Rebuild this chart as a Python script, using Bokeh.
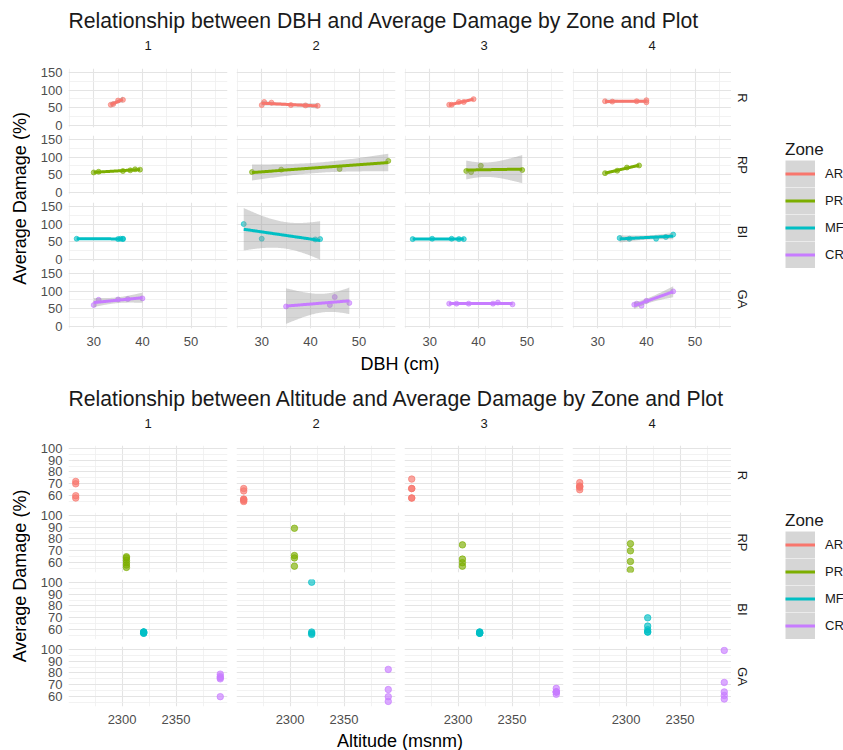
import numpy as np
from bokeh.plotting import figure
from bokeh.layouts import row, column
from bokeh.models import Range1d, FixedTicker, Grid, Legend, LegendItem, ColumnDataSource
from bokeh.core.properties import value
from bokeh.embed import file_html
from bokeh.resources import INLINE

FONT = "Liberation Sans"

ZONES = ["AR", "PR", "MF", "CR"]
ZONE_STRIPS = ["R", "RP", "BI", "GA"]
ZONE_COLORS = ["#F8766D", "#7CAE00", "#00BFC4", "#C77CFF"]
ZONE_ALTITUDE = [2257, 2304, 2320, 2391]
PLOTS = [1, 2, 3, 4]

# Trees per zone: plot number, diameter at breast height (cm), average damage (%)
AR_PLOT = [1, 1, 1, 1, 2, 2, 2, 2, 2, 2, 3, 3, 3, 3, 3, 4, 4, 4, 4, 4]
AR_DBH = [33.5, 34, 35, 36, 30, 30.5, 32, 36, 39, 41.5, 34, 34.5, 36, 37, 39, 31.5, 33, 38, 40, 40]
AR_DAMAGE = [58, 60, 70, 72, 57, 66, 64, 57, 56, 55, 58, 58, 66, 66, 74, 68, 67, 68, 65, 71]

PR_PLOT = [1, 1, 1, 1, 1, 1, 2, 2, 2, 2, 3, 3, 3, 3, 4, 4, 4, 4]
PR_DBH = [30, 31, 36, 37.5, 38.5, 39.5, 28, 34, 46, 56, 37.5, 38.5, 40.5, 49, 31.5, 34, 36, 38.5]
PR_DAMAGE = [56, 58, 60, 62, 65, 64, 57, 64, 66, 89, 60, 57, 75, 63, 54, 61, 70, 76]

MF_PLOT = [1, 1, 1, 1, 1, 2, 2, 2, 2, 3, 3, 3, 3, 3, 4, 4, 4, 4, 4]
MF_DBH = [26.5, 35, 35.5, 36, 36, 26.3, 30, 41, 42, 26.5, 30.5, 34.5, 36, 37, 34.5, 36.5, 42, 44, 45.5]
MF_DAMAGE = [58, 57, 58, 57, 58, 100, 58, 56, 57, 57, 58, 58, 57, 57, 60, 58, 58, 63, 70]

CR_PLOT = [1, 1, 1, 1, 1, 2, 2, 2, 2, 3, 3, 3, 3, 3, 3, 4, 4, 4, 4, 4]
CR_DBH = [30, 31, 35, 37, 40, 35, 44, 45, 48, 34, 35.5, 38, 43, 44, 47, 37.5, 38, 39, 40, 45.5]
CR_DAMAGE = [60, 75, 76, 77, 79, 56, 60, 83, 66, 64, 64, 64, 64, 67, 62, 61, 64, 58, 72, 99]

ZONE_TREES = [
    (AR_PLOT, AR_DBH, AR_DAMAGE),
    (PR_PLOT, PR_DBH, PR_DAMAGE),
    (MF_PLOT, MF_DBH, MF_DAMAGE),
    (CR_PLOT, CR_DBH, CR_DAMAGE),
]

DBH_TICKS = [30, 40, 50]
DBH_MINOR = [25, 35, 45, 55]
DMG_TICKS_TOP = [0, 50, 100, 150]
DMG_MINOR_TOP = [25, 75, 125]
ALT_TICKS = [2300, 2350]
ALT_MINOR = [2275, 2325, 2375]
DMG_TICKS_BOT = [60, 70, 80, 90, 100]
DMG_MINOR_BOT = [55, 65, 75, 85, 95]

# two-sided 95% t quantiles for the lm confidence band
T975 = {1: 12.706, 2: 4.303, 3: 3.182, 4: 2.776, 5: 2.571, 6: 2.447, 7: 2.365}

# layout (pixels)
W = 843
YLAB_W = 30
AXIS_W = 38
PANEL_W = 159
GAP_X = 9
STRIP_W = 28
LEGEND_W = W - YLAB_W - AXIS_W - 4 * PANEL_W - 3 * GAP_X - STRIP_W
KEY_H = 27
TICK_FONT = "13px"
BAND_GREY = "#D6D6D6"
NAN = float("nan")


def smooth(x, y, n=80):
    x = np.asarray(x, float)
    y = np.asarray(y, float)
    slope, icpt = np.polyfit(x, y, 1)
    xs = np.linspace(x.min(), x.max(), n)
    fit = icpt + slope * xs
    resid = y - (icpt + slope * x)
    df = len(x) - 2
    s = np.sqrt((resid ** 2).sum() / df)
    sxx = ((x - x.mean()) ** 2).sum()
    se = s * np.sqrt(1.0 / len(x) + (xs - x.mean()) ** 2 / sxx)
    t = T975[df]
    return xs, fit, fit - t * se, fit + t * se


def expand(lo, hi, f=0.05):
    d = (hi - lo) * f
    return lo - d, hi + d


def blank(width, height):
    p = figure(width=width, height=height, x_range=Range1d(0, width), y_range=Range1d(height, 0),
               x_axis_location=None, y_axis_location=None, toolbar_location=None,
               output_backend="svg", min_border=0, outline_line_color=None,
               background_fill_color="white", border_fill_color="white")
    p.center = [r for r in p.center if not isinstance(r, Grid)]
    return p


def panel(xr, yr, xt, xm, yt, ym, col, rw, frame_h, top_pad, gap_top, gap_bot, axis_h):
    left = AXIS_W if col == 0 else 0
    right = GAP_X if col < 3 else 0
    top = top_pad if rw == 0 else gap_top
    bottom = axis_h if rw == 3 else gap_bot
    p = figure(width=left + PANEL_W + right, height=top + frame_h + bottom,
               x_range=xr, y_range=yr,
               x_axis_location="below" if rw == 3 else None,
               y_axis_location="left" if col == 0 else None,
               min_border_left=left, min_border_right=right,
               min_border_top=top, min_border_bottom=bottom,
               toolbar_location=None, output_backend="svg", outline_line_color=None,
               background_fill_color="white", border_fill_color="white")
    p.center = [r for r in p.center if not isinstance(r, Grid)]
    for dim, tk, mn in ((0, xt, xm), (1, yt, ym)):
        p.add_layout(Grid(dimension=dim, ticker=FixedTicker(ticks=tk, minor_ticks=mn),
                          grid_line_color="#E4E4E4", grid_line_width=1.1,
                          minor_grid_line_color="#EFEFEF", minor_grid_line_width=0.8))
    for ax in p.axis:
        ax.axis_line_color = None
        ax.major_tick_line_color = None
        ax.minor_tick_line_color = None
        ax.major_tick_out = 0
        ax.major_tick_in = 0
        ax.minor_tick_out = 0
        ax.minor_tick_in = 0
        ax.major_label_text_font = FONT
        ax.major_label_text_font_size = TICK_FONT
        ax.major_label_text_color = "#4D4D4D"
    if rw == 3:
        p.xaxis.ticker = FixedTicker(ticks=xt)
        p.xaxis.major_label_standoff = 8
    if col == 0:
        p.yaxis.ticker = FixedTicker(ticks=yt)
        p.yaxis.major_label_standoff = 6
    return p


def legend_fig(height, bottom_off):
    p = blank(LEGEND_W, height)
    items = []
    for z, c in zip(ZONES, ZONE_COLORS):
        # key-only renderers: a single undefined point, nothing drawn in the frame
        src = ColumnDataSource(dict(x=[NAN], y=[NAN]))
        key_bg = p.line(x="x", y="y", source=src, line_color=BAND_GREY, line_width=KEY_H,
                        line_cap="butt")
        ln = p.line(x="x", y="y", source=src, line_color=c, line_width=3)
        items.append(LegendItem(label=z, renderers=[key_bg, ln]))
    leg = Legend(items=items, title="Zone", location=(26, bottom_off),
                 title_text_font=FONT, title_text_font_size="17px", title_text_color="#1A1A1A",
                 title_text_font_style="normal", title_standoff=0,
                 label_text_font=FONT, label_text_font_size="13px", label_text_color="#1A1A1A",
                 glyph_width=30, glyph_height=KEY_H, label_height=KEY_H, spacing=0, padding=0, margin=0,
                 label_standoff=10, border_line_color=None, background_fill_alpha=0)
    p.add_layout(leg)
    return p


def chart(title, xlabel, header_h, title_y, strip_y, frame_h, top_pad, gap_top, gap_bot, axis_h,
          xlab_h, xlab_y, legend_off, top_kind):
    if top_kind:
        all_x = [v for _, xs, _ in ZONE_TREES for v in xs]
        xr = Range1d(*expand(min(all_x), max(all_x)))
        yr = Range1d(-7, 161.5)
        xt, xm, yt, ym = DBH_TICKS, DBH_MINOR, DMG_TICKS_TOP, DMG_MINOR_TOP
    else:
        xr = Range1d(*expand(min(ZONE_ALTITUDE), max(ZONE_ALTITUDE)))
        all_y = [v for _, _, ys in ZONE_TREES for v in ys]
        yr = Range1d(*expand(min(all_y), max(all_y)))
        xt, xm, yt, ym = ALT_TICKS, ALT_MINOR, DMG_TICKS_BOT, DMG_MINOR_BOT

    rows = []
    for zi, (plots, dbh, dmg) in enumerate(ZONE_TREES):
        figs = []
        for ci, pl in enumerate(PLOTS):
            p = panel(xr, yr, xt, xm, yt, ym, ci, zi, frame_h, top_pad, gap_top, gap_bot, axis_h)
            idx = [i for i, v in enumerate(plots) if v == pl]
            ys = [dmg[i] for i in idx]
            color = ZONE_COLORS[zi]
            if top_kind:
                xs = [dbh[i] for i in idx]
                p.scatter(xs, ys, size=5, color=color, alpha=0.6)
                sx, fit, lo, hi = smooth(xs, ys)
                p.varea(x=sx, y1=lo, y2=hi, fill_color="#999999", fill_alpha=0.4)
                p.line(sx, fit, line_color=color, line_width=3)
            else:
                xs = [ZONE_ALTITUDE[zi]] * len(idx)
                p.scatter(xs, ys, size=6.5, color=color, alpha=0.65)
            figs.append(p)
        rows.append(row(*figs))
    gap = gap_top + gap_bot
    grid_h = top_pad + 4 * frame_h + 3 * gap + axis_h

    # title and column strips
    head = blank(W, header_h)
    head.text(x=[YLAB_W + AXIS_W], y=[title_y], text=[title], text_font=value(FONT),
              text_font_size="21.2px", text_align="left", text_baseline="middle", text_color="#1A1A1A")
    cx = [YLAB_W + AXIS_W + PANEL_W / 2 + i * (PANEL_W + GAP_X) for i in range(4)]
    head.text(x=cx, y=[strip_y] * 4, text=[str(v) for v in PLOTS], text_font=value(FONT),
              text_font_size="13px", text_align="center", text_baseline="middle", text_color="#1A1A1A")

    # row strips
    strip = blank(STRIP_W, grid_h)
    ry = [top_pad + frame_h / 2 + i * (frame_h + gap) for i in range(4)]
    strip.text(x=[11] * 4, y=ry, text=ZONE_STRIPS, angle=-np.pi / 2, text_font=value(FONT),
               text_font_size="13px", text_align="center", text_baseline="middle", text_color="#1A1A1A")

    # y axis title
    ylab = blank(YLAB_W, grid_h)
    mid = top_pad + (4 * frame_h + 3 * gap) / 2
    ylab.text(x=[19], y=[mid], text=["Average Damage (%)"], angle=np.pi / 2, text_font=value(FONT),
              text_font_size="18px", text_align="center", text_baseline="middle", text_color="#000000")

    leg = legend_fig(grid_h, legend_off)

    xl = blank(W, xlab_h)
    xl.text(x=[YLAB_W + AXIS_W + (4 * PANEL_W + 3 * GAP_X) / 2], y=[xlab_y], text=[xlabel],
            text_font=value(FONT), text_font_size="18px", text_align="center",
            text_baseline="middle", text_color="#000000")

    body = row(ylab, column(*rows), strip, leg)
    return column(head, body, xl)


top = chart("Relationship between DBH and Average Damage by Zone and Plot", "DBH (cm)",
            header_h=56, title_y=20, strip_y=45, frame_h=59, top_pad=12, gap_top=3, gap_bot=5,
            axis_h=26, xlab_h=21, xlab_y=9, legend_off=86, top_kind=True)
bottom = chart("Relationship between Altitude and Average Damage by Zone and Plot", "Altitude (msnm)",
               header_h=58, title_y=23, strip_y=48, frame_h=60, top_pad=12, gap_top=5, gap_bot=2,
               axis_h=26, xlab_h=18, xlab_y=8, legend_off=93, top_kind=False)

layout = column(top, bottom)
open("out.html", "w").write(file_html(layout, INLINE, title="Damage by zone and plot"))
